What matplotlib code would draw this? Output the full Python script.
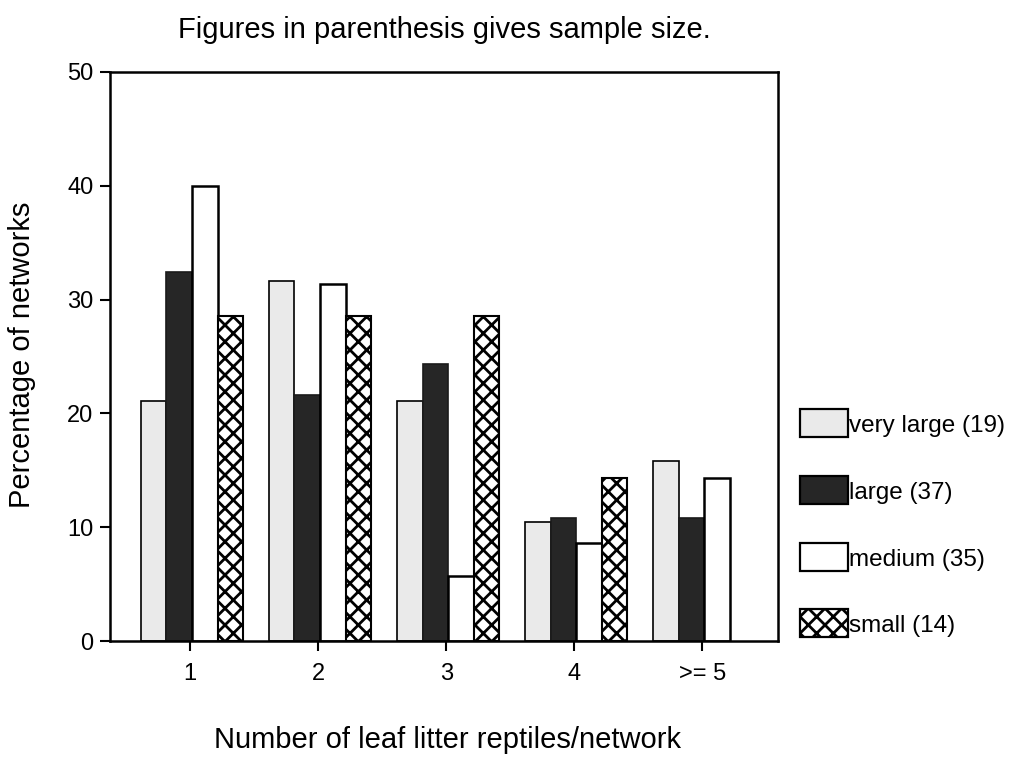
import matplotlib
matplotlib.use("Agg")
import matplotlib.pyplot as plt
from matplotlib.patches import Rectangle
import numpy as np

plt.rcParams['font.family'] = ['Liberation Sans', 'DejaVu Sans']
plt.rcParams['hatch.linewidth'] = 2.0

categories = ["1", "2", "3", "4", ">= 5"]
series_labels = ["very large (19)", "large (37)", "medium (35)", "small (14)"]
very_large = [21.1, 31.6, 21.1, 10.5, 15.8]
large = [32.4, 21.6, 24.3, 10.8, 10.8]
medium = [40.0, 31.4, 5.7, 8.6, 14.3]
small = [28.6, 28.6, 28.6, 14.3, 0.0]
yticks = [0, 10, 20, 30, 40, 50]

styles = [
    dict(facecolor="#eaeaea", edgecolor="black", linewidth=1.2, hatch=None),
    dict(facecolor="#262626", edgecolor="#1a1a1a", linewidth=1.2, hatch=None),
    dict(facecolor="white", edgecolor="black", linewidth=1.8, hatch=None),
    dict(facecolor="white", edgecolor="black", linewidth=1.5, hatch="xx"),
]

fig = plt.figure(figsize=(10.13, 7.57), dpi=100)
ax = fig.add_axes([0.1086, 0.1532, 0.6594, 0.7517])

x = np.arange(len(categories))
w = 0.2
series = [very_large, large, medium, small]
for i, (vals, st) in enumerate(zip(series, styles)):
    bars = ax.bar(x + (i - 1.5) * w + 0.015, vals, width=w, **st)
    for b, v in zip(bars, vals):
        if v == 0:
            b.set_visible(False)

ax.set_xlim(-0.625, 4.59)
ax.set_ylim(0, 50)
ax.set_yticks(yticks)
ax.set_xticks(x)
ax.set_xticklabels(categories)
ax.tick_params(axis='both', direction='out', length=7, width=1.5, labelsize=17, colors='black')
ax.tick_params(axis='y', pad=5)
ax.tick_params(axis='x', pad=9)
for s in ax.spines.values():
    s.set_linewidth(1.8)

ax.set_ylabel("Percentage of networks", fontsize=21, va='center')
ax.yaxis.set_label_coords(-0.1317, 0.503)
ax.set_xlabel("Number of leaf litter reptiles/network", fontsize=21, va='center')
ax.xaxis.set_label_coords(0.5045, -0.174)
fig.text(444 / 1013, 1 - 30 / 757, "Figures in parenthesis gives sample size.", fontsize=21,
         ha='center', va='center')

# legend drawn in figure pixels
W, H = 1013, 757
ys = [409, 476, 543, 609]
for yy, st, lab in zip(ys, styles, series_labels):
    r = Rectangle((800 / W, 1 - (yy + 28) / H), 48 / W, 28 / H, transform=fig.transFigure,
                  facecolor=st['facecolor'], edgecolor='black', linewidth=1.6,
                  hatch=st['hatch'])
    fig.add_artist(r)
    fig.text(849 / W, 1 - (yy + 17) / H, lab, fontsize=17.5, ha='left', va='center')

fig.savefig("out.png", dpi=100)
